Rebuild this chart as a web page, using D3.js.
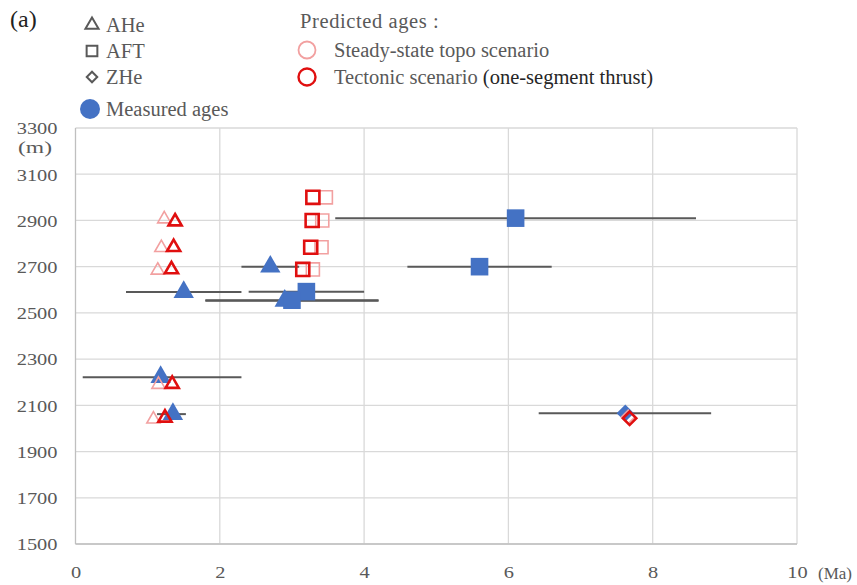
<!DOCTYPE html>
<html><head><meta charset="utf-8">
<script src="https://cdn.jsdelivr.net/npm/d3@7"></script>
<style>body{margin:0;background:#fff}svg{display:block}text{font-family:"Liberation Serif","Times New Roman",serif}</style>
</head><body><svg id="c" width="857" height="585"></svg>
<script>
// ---- data ----
const ageTicks = [0, 2, 4, 6, 8, 10];
const elevTicks = [1500, 1700, 1900, 2100, 2300, 2500, 2700, 2900, 3100, 3300];

// measured ages: age (Ma), elevation (m), error range lo/hi
const measuredAHe = [
  {age: 1.5, elev: 2590, lo: 0.7, hi: 2.3},
  {age: 2.7, elev: 2700, lo: 2.3, hi: 3.1},
  {age: 1.18, elev: 2222, lo: 0.1, hi: 2.3},
  {age: 1.35, elev: 2062, lo: 1.13, hi: 1.53},
  {age: 2.9, elev: 2552, lo: 1.8, hi: 4.2}
];
const measuredAFT = [
  {age: 6.1, elev: 2910, lo: 3.6, hi: 8.6},
  {age: 5.6, elev: 2700, lo: 4.6, hi: 6.6},
  {age: 3.2, elev: 2592, lo: 2.4, hi: 4.0},
  {age: 3.0, elev: 2555, lo: 1.8, hi: 4.2}
];
const measuredZHe = [
  {age: 7.62, elev: 2066, lo: 6.42, hi: 8.81}
];

// predicted ages: steady-state topo scenario
const steadyAHe = [
  {age: 1.23, elev: 2906}, {age: 1.19, elev: 2782}, {age: 1.14, elev: 2684},
  {age: 1.15, elev: 2190}, {age: 1.08, elev: 2040}
];
const steadyAFT = [
  {age: 3.47, elev: 3000}, {age: 3.42, elev: 2900}, {age: 3.41, elev: 2784}, {age: 3.29, elev: 2688}
];
const steadyZHe = [
  {age: 7.66, elev: 2050}
];
// predicted ages: tectonic scenario (one-segment thrust)
const tectonicAHe = [
  {age: 1.38, elev: 2895}, {age: 1.36, elev: 2784}, {age: 1.33, elev: 2688},
  {age: 1.34, elev: 2192}, {age: 1.24, elev: 2046}
];
const tectonicAFT = [
  {age: 3.29, elev: 3000}, {age: 3.28, elev: 2900}, {age: 3.26, elev: 2784}, {age: 3.15, elev: 2688}
];
const tectonicZHe = [
  {age: 7.68, elev: 2044}
];

// ---- drawing ----
const svg = d3.select("#c");
const x = d3.scaleLinear().domain([0, 10]).range([75.5, 797]);
const y = d3.scaleLinear().domain([1500, 3300]).range([544, 128]);
const gridCol = "#d9d9d9", textCol = "#595959";
const blue = "#4472C4", red = "#E00F0F", pink = "#F2A0A0";
const serif = '"Liberation Serif","Times New Roman",serif';

// grid
svg.append("g").selectAll("line").data(elevTicks).join("line")
  .attr("x1", x(0)).attr("x2", x(10)).attr("y1", d => y(d)).attr("y2", d => y(d))
  .attr("stroke", gridCol).attr("stroke-width", 1.3);
svg.append("g").selectAll("line").data(ageTicks.filter(d => d > 0)).join("line")
  .attr("x1", d => x(d)).attr("x2", d => x(d)).attr("y1", y(3300)).attr("y2", y(1500))
  .attr("stroke", gridCol).attr("stroke-width", 1.3);
// axis lines
svg.append("line").attr("x1", x(0)).attr("x2", x(0)).attr("y1", y(3300)).attr("y2", y(1500))
  .attr("stroke", "#bfbfbf").attr("stroke-width", 1.3);
svg.append("line").attr("x1", x(0)).attr("x2", x(10)).attr("y1", y(1500)).attr("y2", y(1500))
  .attr("stroke", "#bfbfbf").attr("stroke-width", 1.3);

// axes labels via d3 axes (glyphs stretched horizontally like the reference)
const yAxis = svg.append("g").attr("transform", `translate(${x(0) - 18},0)`)
  .call(d3.axisLeft(y).tickValues(elevTicks).tickSize(0).tickFormat(d3.format("d")))
  .attr("font-family", serif).attr("font-size", 17.5);
yAxis.select(".domain").remove();
yAxis.selectAll("text").attr("fill", textCol).attr("dy", "0.33em").attr("x", 0)
  .attr("textLength", d => String(d).length * 10.2).attr("lengthAdjust", "spacingAndGlyphs");
const xAxis = svg.append("g").attr("transform", `translate(0,${y(1500) + 22})`)
  .call(d3.axisBottom(x).tickValues(ageTicks).tickSize(0).tickFormat(d3.format("d")))
  .attr("font-family", serif).attr("font-size", 17.5);
xAxis.select(".domain").remove();
xAxis.selectAll("text").attr("fill", textCol).attr("dy", "0.71em").attr("y", 0)
  .attr("textLength", d => String(d).length * 10.2).attr("lengthAdjust", "spacingAndGlyphs");

svg.append("text").attr("x", 18).attr("y", 153)
  .attr("fill", textCol).style("font-size", "17.5px")
  .attr("textLength", 34).attr("lengthAdjust", "spacingAndGlyphs").text("(m)");
svg.append("text").attr("x", 818).attr("y", 579)
  .attr("fill", textCol).style("font-size", "17px").text("(Ma)");

// error bars
const allMeasured = measuredAHe.concat(measuredAFT, measuredZHe);
svg.append("g").selectAll("line").data(allMeasured).join("line")
  .attr("x1", d => x(d.lo)).attr("x2", d => x(d.hi))
  .attr("y1", d => y(d.elev)).attr("y2", d => y(d.elev))
  .attr("stroke", "#595959").attr("stroke-width", 2);

const tri = (s) => d3.symbol(d3.symbolTriangle, s)();
const sq = (s) => d3.symbol(d3.symbolSquare, s)();

function markers(data, path, rot, fill, stroke, sw) {
  svg.append("g").selectAll("path").data(data).join("path")
    .attr("d", path)
    .attr("transform", d => `translate(${x(d.age)},${y(d.elev)}) rotate(${rot})`)
    .attr("fill", fill).attr("stroke", stroke).attr("stroke-width", sw);
}
// measured
markers(measuredAHe, tri(180), 0, blue, "none", 0);
markers(measuredAFT, sq(310), 0, blue, "none", 0);
markers(measuredZHe, sq(150), 45, blue, "none", 0);
// steady-state (pink)
markers(steadyAHe, tri(75), 0, "none", pink, 1.6);
markers(steadyAFT, sq(170), 0, "none", pink, 1.6);
markers(steadyZHe, sq(90), 45, "none", pink, 1.6);
// tectonic (red)
markers(tectonicAHe, tri(75), 0, "none", red, 2.6);
markers(tectonicAFT, sq(170), 0, "none", red, 2.6);
markers(tectonicZHe, sq(90), 45, "none", red, 2.6);

// ---- legend ----
svg.append("text").attr("x", 10).attr("y", 27).attr("fill", "#222").style("font-size", "24px").text("(a)");
const legSym = [
  {label: "AHe", path: tri(75), rot: 0, y: 25},
  {label: "AFT", path: sq(115), rot: 0, y: 51},
  {label: "ZHe", path: sq(55), rot: 45, y: 77}
];
legSym.forEach(l => {
  svg.append("path").attr("d", l.path)
    .attr("transform", `translate(92,${l.y}) rotate(${l.rot})`)
    .attr("fill", "none").attr("stroke", "#595959").attr("stroke-width", 2);
  svg.append("text").attr("x", 106).attr("y", l.y + 7).attr("fill", textCol)
    .style("font-size", "20.5px").text(l.label);
});
svg.append("circle").attr("cx", 90).attr("cy", 109).attr("r", 10).attr("fill", blue);
svg.append("text").attr("x", 106).attr("y", 116).attr("fill", textCol).style("font-size", "20.5px").text("Measured ages");

svg.append("text").attr("x", 300).attr("y", 28).attr("fill", textCol).style("font-size", "20.5px")
  .style("letter-spacing", "0.6px").text("Predicted ages :");
svg.append("circle").attr("cx", 307).attr("cy", 50).attr("r", 8.5).attr("fill", "none").attr("stroke", pink).attr("stroke-width", 1.8);
svg.append("text").attr("x", 334).attr("y", 57).attr("fill", textCol).style("font-size", "20.5px").text("Steady-state topo scenario");
svg.append("circle").attr("cx", 307).attr("cy", 77).attr("r", 8.5).attr("fill", "none").attr("stroke", red).attr("stroke-width", 2.4);
const t2 = svg.append("text").attr("x", 334).attr("y", 84).style("font-size", "20.5px");
t2.append("tspan").attr("fill", textCol).text("Tectonic scenario ");
t2.append("tspan").attr("fill", "#262626").text("(one-segment thrust)");
</script></body></html>
